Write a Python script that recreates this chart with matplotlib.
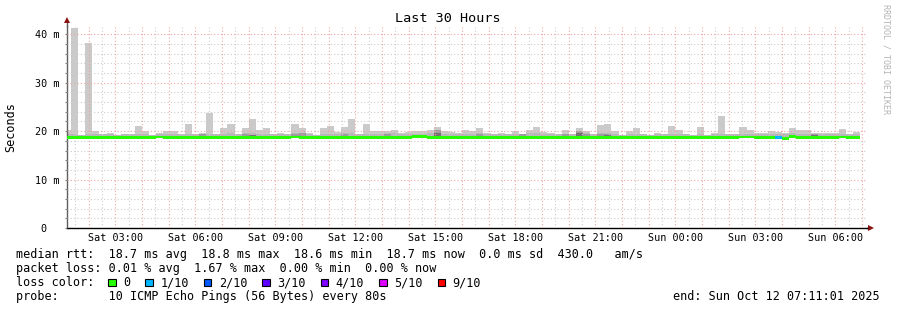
import matplotlib
matplotlib.use("Agg")
import matplotlib.pyplot as plt
from matplotlib.patches import Rectangle
from matplotlib.ticker import MultipleLocator

# --- data -------------------------------------------------------------
# time in hours counted from Sat 00:00, 16 minute consolidation steps
start_h = 1 + 11 / 60 + 1 / 3600
span_h = 30
bar_w = 16 / 60
last_bar_end = 30 + 56 / 60

# top of the smoke (max ping) per step, ms
smoke_max = [20.3, 41.3, 19.3, 38.2, 20.0, 19.5, 19.7, 19.3, 19.4, 19.4, 21.1,
             20.1, 19.3, 19.7, 20.0, 20.0, 19.4, 21.5, 19.5, 19.7, 23.8,
             19.5, 20.7, 21.4, 19.4, 20.6, 22.6, 20.3, 20.6, 19.5, 19.7,
             19.5, 21.5, 20.6, 19.7, 19.3, 20.7, 21.0, 19.9, 20.8, 22.6,
             19.5, 21.4, 20.0, 20.0, 20.1, 20.3, 19.7, 19.9, 20.0, 20.0,
             20.3, 20.8, 20.0, 19.9, 19.7, 20.3, 20.1, 20.6, 19.7, 19.5,
             19.7, 19.5, 20.1, 19.5, 20.3, 20.8, 19.9, 19.7, 19.5, 20.3,
             19.5, 20.6, 20.0, 19.5, 21.2, 21.4, 20.0, 19.2, 20.0, 20.6,
             19.5, 19.3, 19.7, 19.5, 21.1, 20.3, 19.5, 19.3, 20.9, 19.3,
             19.7, 23.1, 19.4, 19.5, 20.8, 20.2, 19.6, 19.7, 20.0, 19.8,
             19.6, 20.7, 20.2, 20.2, 19.7, 19.6, 19.6, 19.6, 20.5, 19.4,
             19.9]

# top of the denser (inner) smoke per step, ms
smoke_mid = [19.4, 19.5, 19.3, 19.5, 19.4, 19.4, 19.4, 19.3, 19.4, 19.4, 19.5,
             19.4, 19.3, 19.4, 19.4, 19.4, 19.4, 19.5, 19.4, 19.5, 19.5,
             19.4, 19.5, 19.6, 19.4, 19.6, 19.7, 19.5, 19.5, 19.4, 19.4,
             19.4, 19.7, 19.6, 19.4, 19.3, 19.5, 19.5, 19.4, 19.6, 19.6,
             19.4, 19.5, 19.4, 19.4, 19.6, 19.6, 19.4, 19.4, 19.4, 19.5,
             19.6, 19.8, 19.5, 19.4, 19.4, 19.5, 19.4, 19.6, 19.4, 19.4,
             19.4, 19.4, 19.5, 19.4, 19.6, 19.6, 19.4, 19.4, 19.4, 19.5,
             19.4, 19.7, 19.6, 19.4, 19.6, 19.6, 19.4, 19.2, 19.4, 19.5,
             19.4, 19.3, 19.4, 19.4, 19.5, 19.5, 19.4, 19.3, 19.5, 19.3,
             19.4, 19.5, 19.4, 19.4, 19.5, 19.5, 19.4, 19.4, 19.5, 19.5,
             19.4, 19.6, 19.5, 19.5, 19.4, 19.5, 19.4, 19.4, 19.5, 19.4,
             19.5]

# steps with darker smoke core
dark_idx = [19, 25, 26, 32, 33, 39, 45, 52, 58, 64, 70, 72, 73, 75, 76, 105]
dark_top = [19.4, 19.5, 19.3, 19.5, 19.6, 19.4, 19.4, 20.2, 19.5, 19.4, 19.4,
            20.1, 19.5, 19.5, 19.4, 19.5]
darkest_idx = [26, 52, 72, 76, 105]
darkest_top = [19.2, 19.6, 19.7, 19.2, 19.2]

# median rtt per step, ms
median = [18.7, 18.7, 18.7, 18.7, 18.7, 18.7, 18.7, 18.7, 18.7, 18.7, 18.7,
          18.7, 18.7, 18.8, 18.7, 18.7, 18.7, 18.7, 18.7, 18.7, 18.7,
          18.7, 18.7, 18.7, 18.7, 18.7, 18.7, 18.7, 18.7, 18.7, 18.7,
          18.7, 18.8, 18.7, 18.7, 18.7, 18.7, 18.7, 18.7, 18.7, 18.7,
          18.7, 18.7, 18.7, 18.7, 18.7, 18.7, 18.7, 18.7, 18.9, 18.9,
          18.7, 18.7, 18.7, 18.7, 18.7, 18.7, 18.7, 18.7, 18.7, 18.7,
          18.7, 18.7, 18.7, 18.7, 18.7, 18.7, 18.7, 18.7, 18.7, 18.7,
          18.7, 18.7, 18.7, 18.7, 18.7, 18.7, 18.7, 18.7, 18.7, 18.7,
          18.7, 18.7, 18.7, 18.7, 18.7, 18.7, 18.7, 18.7, 18.7, 18.7,
          18.7, 18.7, 18.7, 18.7, 18.8, 18.8, 18.7, 18.7, 18.7, 18.7,
          18.5, 18.9, 18.7, 18.7, 18.7, 18.7, 18.7, 18.7, 18.8, 18.7,
          18.7]

# lost pings (of 10) per step; only one step had a loss
loss_idx = [100]
loss_val = [1]

loss_levels = ["0", "1/10", "2/10", "3/10", "4/10", "5/10", "9/10"]
loss_steps = [0, 1, 2, 3, 4, 5, 9]
loss_colors = ["#26ff00", "#00b8ff", "#0059ff", "#5e00ff", "#7e00ff", "#dd00ff", "#ff0000"]

xtick_hours = [3, 6, 9, 12, 15, 18, 21, 24, 27, 30]
xtick_labels = ["Sat 03:00", "Sat 06:00", "Sat 09:00", "Sat 12:00", "Sat 15:00",
                "Sat 18:00", "Sat 21:00", "Sun 00:00", "Sun 03:00", "Sun 06:00"]
ytick_vals = [0, 10, 20, 30, 40]
ytick_labels = ["0  ", "10 m", "20 m", "30 m", "40 m"]

legend_rows = [
    "median rtt:  18.7 ms avg  18.8 ms max  18.6 ms min  18.7 ms now  0.0 ms sd  430.0   am/s",
    "packet loss: 0.01 % avg  1.67 % max  0.00 % min  0.00 % now",
    "loss color:",
    "probe:       10 ICMP Echo Pings (56 Bytes) every 80s",
]
end_text = "end: Sun Oct 12 07:11:01 2025"

# --- figure -------------------------------------------------------------
W, H = 897, 310
mono = "DejaVu Sans Mono"
plt.rcParams["font.family"] = mono

fig = plt.figure(figsize=(W / 100, H / 100), dpi=100)
ax = fig.add_axes([67 / W, 1 - 228 / H, 800 / W, (228 - 25.7) / H])

n = len(smoke_max)
lefts = [last_bar_end - (n - i) * bar_w for i in range(n)]
bottoms = [m - 0.25 for m in median]

ax.bar(lefts, [t - b for t, b in zip(smoke_max, bottoms)], bottom=bottoms, width=bar_w,
       align="edge", color="#cacaca", linewidth=0, antialiased=False, zorder=1)
ax.bar(lefts, [t - b for t, b in zip(smoke_mid, bottoms)], bottom=bottoms, width=bar_w,
       align="edge", color="#b8b8b8", linewidth=0, antialiased=False, zorder=1.1)
ax.bar([lefts[i] for i in dark_idx], [t - bottoms[i] for i, t in zip(dark_idx, dark_top)],
       bottom=[bottoms[i] for i in dark_idx], width=bar_w, align="edge",
       color="#9c9c9c", linewidth=0, antialiased=False, zorder=1.2)
ax.bar([lefts[i] for i in darkest_idx], [t - bottoms[i] for i, t in zip(darkest_idx, darkest_top)],
       bottom=[bottoms[i] for i in darkest_idx], width=bar_w, align="edge",
       color="#747474", linewidth=0, antialiased=False, zorder=1.3)

# median band coloured by loss
colors = [loss_colors[0]] * n
for i, v in zip(loss_idx, loss_val):
    colors[i] = loss_colors[loss_steps.index(v)]
ax.bar(lefts, [0.5] * n, bottom=bottoms, width=bar_w, align="edge",
       color=colors, linewidth=0, antialiased=False, zorder=3)

ax.set_xlim(start_h, start_h + span_h)
ax.set_ylim(0, 41.78)

# grid: red every hour / 10 m, grey every half hour / 2 m
ax.xaxis.set_major_locator(MultipleLocator(1))
ax.xaxis.set_minor_locator(MultipleLocator(0.5))
ax.yaxis.set_major_locator(MultipleLocator(10))
ax.yaxis.set_minor_locator(MultipleLocator(2))
ax.set_axisbelow(False)
ax.grid(which="major", color="#f2a4a4", linestyle=(0, (1, 2)), linewidth=0.8)
ax.grid(which="minor", color="#cdcdcd", linestyle=(0, (1, 2)), linewidth=0.8)

major_hours = list(range(2, 32))
ax.set_xticks(major_hours,
              labels=[xtick_labels[xtick_hours.index(h)] if h in xtick_hours else "" for h in major_hours])
ax.set_yticks(ytick_vals, labels=ytick_labels)
ax.tick_params(axis="x", which="both", length=0, pad=3.6, labelsize=7.3, colors="black")
ax.tick_params(axis="y", which="both", length=1.8, width=0.8, color="#808080",
               pad=3.4, labelsize=7.3, labelcolor="black")

for s in ("top", "right"):
    ax.spines[s].set_visible(False)
ax.spines["left"].set_color("#606060")
ax.spines["left"].set_linewidth(1.0)
ax.spines["bottom"].set_color("black")
ax.spines["bottom"].set_linewidth(1.0)

# axis arrows
ax.plot([0, 0], [1, 1.025], transform=ax.transAxes, color="#606060", lw=1.0, clip_on=False)
ax.plot([0], [1.027], marker="^", markersize=4.5, color="#8b1010", transform=ax.transAxes,
        clip_on=False, markeredgewidth=0)
ax.plot([1, 1.003], [0, 0], transform=ax.transAxes, color="black", lw=1.0, clip_on=False)
ax.plot([1.0055], [0], marker=">", markersize=4.5, color="#8b1010", transform=ax.transAxes,
        clip_on=False, markeredgewidth=0)

# titles
fig.text(448 / W, 1 - 19 / H, "Last 30 Hours", ha="center", va="center", fontsize=9.7)
fig.text(11 / W, 1 - 127 / H, "Seconds", ha="center", va="center", rotation=90, fontsize=8.5)
fig.text(886 / W, 1 - 4 / H, "RRDTOOL / TOBI OETIKER", ha="center", va="top",
         rotation=270, fontsize=6, color="#b4b4b4")

# legend rows
cw = 7.13
baselines = [258, 272, 286, 300]
for row, y in zip(legend_rows, baselines):
    fig.text(16 / W, 1 - y / H, row, ha="left", va="baseline", fontsize=8.5)

c = 12.95
for lab, col in zip(loss_levels, loss_colors):
    bx = 16 + c * cw
    fig.add_artist(Rectangle((bx / W, 1 - 286 / H), 7.5 / W, 7.5 / H, transform=fig.transFigure,
                             facecolor=col, edgecolor="black", linewidth=0.8))
    fig.text((16 + (c + 2.1) * cw) / W, 1 - 286 / H, lab, ha="left", va="baseline", fontsize=8.5)
    c = c + 2.1 + len(lab) + 2.1

fig.text(880 / W, 1 - 300 / H, end_text, ha="right", va="baseline", fontsize=8.5)

fig.savefig("out.png", dpi=100)
